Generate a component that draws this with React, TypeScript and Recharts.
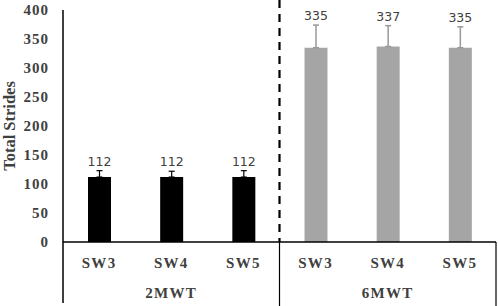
import { Bar, BarChart, Cell, ErrorBar, LabelList, XAxis, YAxis } from "recharts"

const tests = ["2MWT", "6MWT"]
const surfaces = ["SW3", "SW4", "SW5"]
const strides2MWT = [112, 112, 112]
const strides6MWT = [335, 337, 335]
const sd2MWT = [11, 10, 11]
const sd6MWT = [39, 36, 36]
const yTicks = [0, 50, 100, 150, 200, 250, 300, 350, 400]

const barColors = ["#000000", "#a5a5a5"]
const errColors = ["#000000", "#999999"]

// error bars only point up, so the lower half is 0
const data = [
  ...surfaces.map((name, i) => ({ name, test: tests[0], strides: strides2MWT[i], sd: sd2MWT[i], err2: [0, sd2MWT[i]], err6: null })),
  ...surfaces.map((name, i) => ({ name, test: tests[1], strides: strides6MWT[i], sd: sd6MWT[i], err2: null, err6: [0, sd6MWT[i]] })),
]

const serif = "'Liberation Serif', 'Times New Roman', serif"
const textGray = "#404040"

function CategoryTick(props: any) {
  const { x, y, payload, index } = props
  const half = payload?.offset || 36
  const pos = index % surfaces.length
  const last = pos === surfaces.length - 1
  return (
    <g>
      <text x={x} y={y + 26} textAnchor="middle" fontFamily={serif} fontWeight="bold" fontSize={15} letterSpacing={1.3} fill={textGray}>
        {payload.value}
      </text>
      {pos === 1 && (
        <text x={x} y={y + 56} textAnchor="middle" fontFamily={serif} fontWeight="bold" fontSize={15} letterSpacing={1.3} fill={textGray}>
          {data[index].test}
        </text>
      )}
      {index === 0 && <line x1={x - half} x2={x - half} y1={y} y2={y + 61} stroke="#000" strokeWidth={1.5} />}
      {last && <line x1={x + half} x2={x + half} y1={y} y2={y + 64} stroke="#000" strokeWidth={1.2} />}
      {last && index < data.length - 1 && (
        <line x1={x + half} x2={x + half} y1={0} y2={y} stroke="#000" strokeWidth={2.2} strokeDasharray="8 6" />
      )}
    </g>
  )
}

function StrideLabel(props: any) {
  const box = props.viewBox ?? props
  const { x, y, width, height } = box
  const { value, index } = props
  const capY = y - (height * data[index].sd) / value
  return (
    <text x={x + width / 2} y={capY - 5} textAnchor="middle" fontFamily="'DejaVu Sans', sans-serif" fontSize={12.5} fill={textGray}>
      {value}
    </text>
  )
}

export default function App() {
  return (
    <div style={{ position: "absolute", left: 0, top: 0, background: "#fff" }}>
      <BarChart width={498} height={306} data={data} margin={{ top: 10, right: 2, left: 1, bottom: 0 }}>
        <XAxis
          dataKey="name"
          height={64}
          tick={<CategoryTick />}
          tickLine={false}
          tickSize={0}
          tickMargin={0}
          interval={0}
          axisLine={{ stroke: "#000", strokeWidth: 1.5 }}
        />
        <YAxis
          width={62}
          domain={[0, 400]}
          ticks={yTicks}
          tickLine={false}
          tickSize={0}
          tickMargin={14}
          axisLine={{ stroke: "#000", strokeWidth: 1.5 }}
          tick={{ fontFamily: serif, fontWeight: "bold", fontSize: 15, fill: textGray, letterSpacing: 1 }}
          label={{
            value: "Total Strides",
            angle: -90,
            position: "insideLeft",
            offset: 8,
            style: { textAnchor: "middle", fontFamily: serif, fontWeight: "bold", fontSize: 16.5, fill: textGray },
          }}
        />
        <Bar dataKey="strides" barSize={23} isAnimationActive={false}>
          {data.map((d, i) => (
            <Cell key={i} fill={barColors[tests.indexOf(d.test)]} />
          ))}
          <ErrorBar dataKey="err2" direction="y" width={3} stroke={errColors[0]} strokeWidth={1.2} />
          <ErrorBar dataKey="err6" direction="y" width={3} stroke={errColors[1]} strokeWidth={1.5} />
          <LabelList dataKey="strides" content={<StrideLabel />} />
        </Bar>
      </BarChart>
    </div>
  )
}
